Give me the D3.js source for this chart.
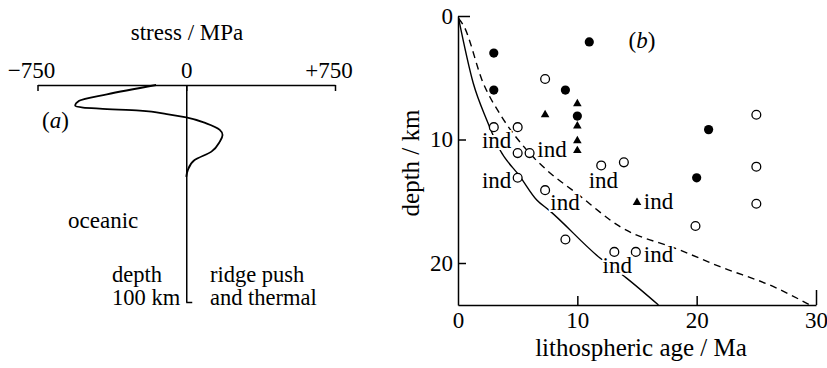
<!DOCTYPE html>
<html lang="en">
<head>
    <meta charset="UTF-8">
    <title> stress profile and earthquake depth vs lithospheric age </title>
    <script type="text/javascript" src="https://cdn.jsdelivr.net/npm/d3@7"></script>
    <style type="text/css">
        body { margin: 0; background: #fff; }
        svg text { font-family: "Liberation Serif", "DejaVu Serif", serif; font-size: 23px; fill: #000; }
    </style>
</head>
<body>
<script type="text/javascript">

    //Width and height
    var w = 827;
    var h = 368;

    // panel (a): stress (MPa) against depth (km)
    var stressTicks = [-750, 0, 750];
    var stressTickLabels = ["\u2212750", "0", "+750"];
    var profileStress = [-152, -400, -540, -560, -520, -437, -234, -98, 0, 101, 169, 183, 169, 127, 42, 8, 0];
    var profileDepth  = [0, 4.3, 7.3, 9.6, 10.4, 10.9, 11.8, 13.4, 14.9, 17.7, 20.7, 23, 26.1, 30.7, 34.6, 39.2, 42.3];

    // panel (b): lithospheric age (Ma) against depth (km)
    var ageTicks = [0, 10, 20, 30];
    var depthTicks = [0, 10, 20];
    var filledAge   = [3, 3, 11, 9, 10, 21, 20];
    var filledDepth = [3, 6, 2.1, 6, 8.1, 9.2, 13.1];
    var openAge   = [7.3, 3, 5, 5, 6, 12, 13.9, 25, 25, 5, 7.3, 25, 19.9, 9, 13.1, 14.9];
    var openDepth = [5.1, 9, 9, 11.1, 11.1, 12.1, 11.85, 8, 12.2, 13.1, 14.1, 15.2, 17, 18.1, 19.1, 19.1];
    var triAge   = [10, 7.3, 10, 10, 10, 15];
    var triDepth = [7.1, 8, 8.9, 10.1, 10.9, 15.1];
    var indAge   = [3.24, 7.88, 3.24, 12.18, 8.97, 16.8, 16.8, 13.35];
    var indDepth = [10.7, 11.4, 13.9, 13.9, 15.7, 15.65, 19.9, 20.8];
    var solidAge   = [0.05, 1.28, 2.4, 3.52, 5.2, 6.6, 7.6, 11.9, 14.1, 16.8];
    var solidDepth = [0.2, 5.45, 8.4, 10.85, 13.0, 14.9, 15.7, 19.6, 21.2, 23.4];
    var dashAge   = [0.05, 0.44, 2.12, 3.66, 5.76, 7.43, 9.95, 13.58, 18.6, 21.96, 26.4, 29.5];
    var dashDepth = [0.2, 0.73, 5.45, 8.15, 10.85, 12.47, 14.36, 17.06, 18.95, 20.3, 21.9, 23.4];

    function zip(a, b) {
        return a.map(function(v, i) { return [v, b[i]]; });
    }

    //Create SVG element
    var svg = d3.select("body")
        .append("svg")
        .attr("width", w)
        .attr("height", h)
        .attr("font-family", "Liberation Serif, DejaVu Serif, serif");

    // ---------- panel (a) ----------
    var xA = d3.scaleLinear().domain([-750, 750]).range([37.5, 335]);
    var yA = d3.scaleLinear().domain([0, 100]).range([85, 302]);

    var axA = svg.append("g")
        .attr("transform", "translate(0," + yA(0) + ")")
        .call(d3.axisTop(xA)
            .tickValues(stressTicks)
            .tickFormat(function(d, i) { return stressTickLabels[i]; })
            .tickSizeInner(-6)
            .tickSizeOuter(0)
            .tickPadding(7));
    axA.attr("font-family", null).attr("font-size", null);
    axA.select(".domain").attr("stroke-width", 1.5);
    axA.selectAll(".tick line").attr("stroke-width", 1.5);
    axA.selectAll(".tick text")
        .attr("dx", function(d) { return d === 0 ? 0 : -6.5; });

    // zero stress line down to 100 km
    var axZ = svg.append("g")
        .attr("transform", "translate(" + xA(0) + ",0)")
        .call(d3.axisRight(yA)
            .tickValues([100])
            .tickFormat("")
            .tickSizeInner(6)
            .tickSizeOuter(0));
    axZ.select(".domain").attr("stroke-width", 1.5);
    axZ.selectAll(".tick line").attr("stroke-width", 1.5);

    svg.append("path")
        .datum(zip(profileStress, profileDepth))
        .attr("fill", "none")
        .attr("stroke", "black")
        .attr("stroke-width", 1.8)
        .attr("d", d3.line()
            .x(function(d) { return xA(d[0]); })
            .y(function(d) { return yA(d[1]); })
            .curve(d3.curveMonotoneY));

    svg.append("text").attr("x", 187).attr("y", 40).attr("text-anchor", "middle").text("stress / MPa");
    var la = svg.append("text").attr("x", 42).attr("y", 128);
    la.append("tspan").text("(");
    la.append("tspan").attr("font-style", "italic").text("a");
    la.append("tspan").text(")");
    svg.append("text").attr("x", 68).attr("y", 228).text("oceanic");
    svg.append("text").attr("x", 112).attr("y", 282).style("font-size", "22.5px").text("depth");
    svg.append("text").attr("x", 112).attr("y", 305).style("font-size", "22.5px").text("100 km");
    svg.append("text").attr("x", 210).attr("y", 282).style("font-size", "22.5px").text("ridge push");
    svg.append("text").attr("x", 210).attr("y", 305).style("font-size", "22.5px").text("and thermal");

    // ---------- panel (b) ----------
    var xB = d3.scaleLinear().domain([0, 30]).range([458, 816]);
    var yB = d3.scaleLinear().domain([0, 23.4]).range([16, 305]);

    var axX = svg.append("g")
        .attr("transform", "translate(0," + yB(23.4) + ")")
        .call(d3.axisBottom(xB)
            .tickValues(ageTicks)
            .tickSizeInner(-8)
            .tickSizeOuter(0)
            .tickPadding(7));
    axX.attr("font-family", null).attr("font-size", null);
    axX.select(".domain").attr("stroke-width", 1.5);
    axX.selectAll(".tick line")
        .attr("stroke-width", 1.5)
        .attr("y2", function(d) { return d === 30 ? -15 : (d === 0 ? 0 : -9); });

    var axY = svg.append("g")
        .attr("transform", "translate(" + xB(0) + ",0)")
        .call(d3.axisLeft(yB)
            .tickValues(depthTicks)
            .tickSizeInner(-8)
            .tickSizeOuter(0)
            .tickPadding(5));
    axY.attr("font-family", null).attr("font-size", null);
    axY.select(".domain").attr("stroke-width", 1.5);
    axY.selectAll(".tick line")
        .attr("stroke-width", 1.5)
        .attr("x2", function(d) { return d === 0 ? 12 : 8; });

    svg.append("text")
        .attr("x", 641).attr("y", 356)
        .attr("text-anchor", "middle")
        .style("font-size", "25px")
        .text("lithospheric age / Ma");
    svg.append("text")
        .attr("transform", "translate(419,163) rotate(-90)")
        .attr("text-anchor", "middle")
        .style("font-size", "25px")
        .text("depth / km");
    var lb = svg.append("text").attr("x", 642).attr("y", 48).attr("text-anchor", "middle");
    lb.append("tspan").text("(");
    lb.append("tspan").attr("font-style", "italic").text("b");
    lb.append("tspan").text(")");

    var curve = d3.line()
        .x(function(d) { return xB(d[0]); })
        .y(function(d) { return yB(d[1]); })
        .curve(d3.curveMonotoneX);

    svg.append("path")
        .datum(zip(solidAge, solidDepth))
        .attr("fill", "none").attr("stroke", "black").attr("stroke-width", 1.4)
        .attr("d", curve);
    svg.append("path")
        .datum(zip(dashAge, dashDepth))
        .attr("fill", "none").attr("stroke", "black").attr("stroke-width", 1.4)
        .attr("stroke-dasharray", "7,5")
        .attr("d", curve);

    svg.selectAll("circle.open")
        .data(zip(openAge, openDepth))
        .enter()
        .append("circle")
        .attr("class", "open")
        .attr("cx", function(d) { return xB(d[0]); })
        .attr("cy", function(d) { return yB(d[1]); })
        .attr("r", 4.4)
        .attr("fill", "white")
        .attr("stroke", "black")
        .attr("stroke-width", 1.3);

    svg.selectAll("circle.filled")
        .data(zip(filledAge, filledDepth))
        .enter()
        .append("circle")
        .attr("class", "filled")
        .attr("cx", function(d) { return xB(d[0]); })
        .attr("cy", function(d) { return yB(d[1]); })
        .attr("r", 4.6)
        .attr("fill", "black");

    svg.selectAll("path.tri")
        .data(zip(triAge, triDepth))
        .enter()
        .append("path")
        .attr("class", "tri")
        .attr("transform", function(d) { return "translate(" + xB(d[0]) + "," + yB(d[1]) + ")"; })
        .attr("d", d3.symbol(d3.symbolTriangle, 32))
        .attr("fill", "black");

    svg.selectAll("text.ind")
        .data(zip(indAge, indDepth))
        .enter()
        .append("text")
        .attr("class", "ind")
        .attr("x", function(d) { return xB(d[0]); })
        .attr("y", function(d) { return yB(d[1]); })
        .attr("text-anchor", "middle")
        .attr("stroke", "white")
        .attr("stroke-width", 4)
        .attr("paint-order", "stroke")
        .text("ind");
</script>
</body>
</html>
